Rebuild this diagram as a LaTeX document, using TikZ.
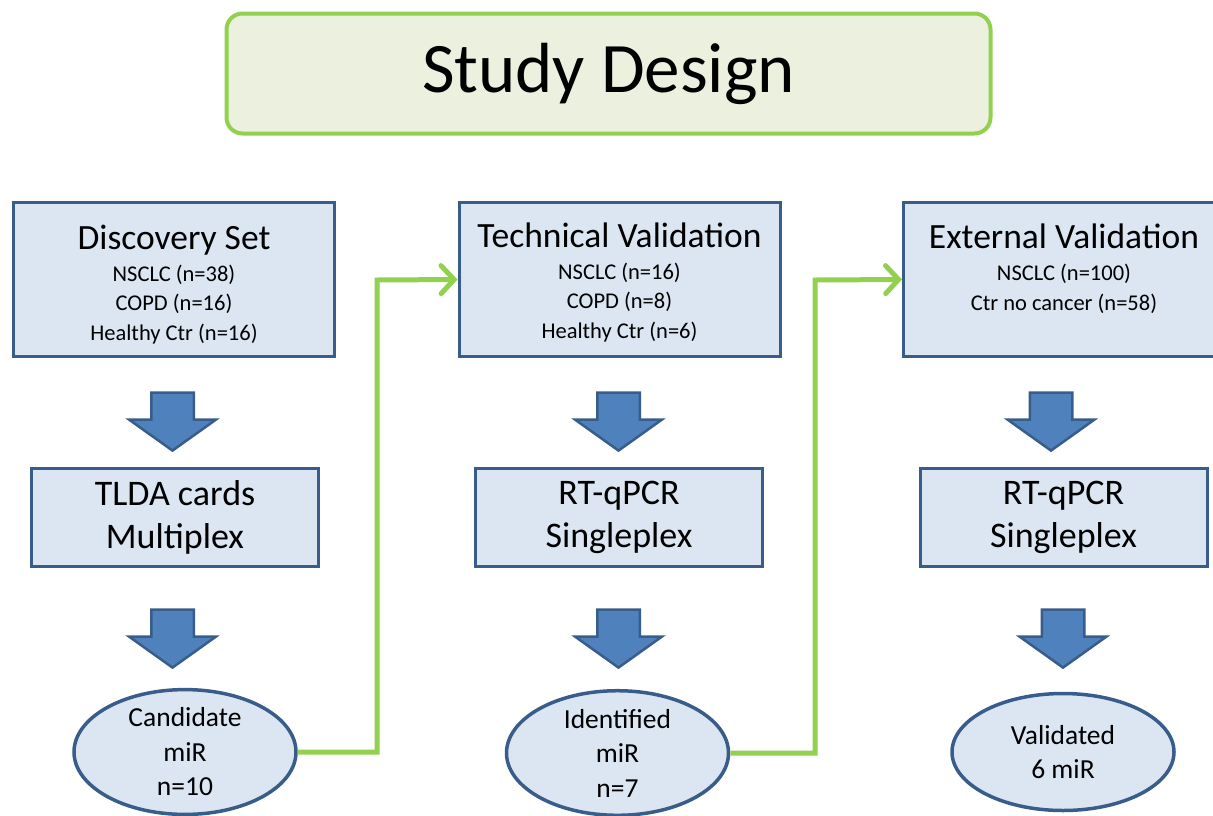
\documentclass[tikz,border=0pt]{standalone}
\usepackage{fontspec}
\setmainfont{Carlito}
\usetikzlibrary{shapes.geometric,shapes.arrows,arrows.meta}
\definecolor{titlegreen}{HTML}{92D050}
\definecolor{titlefill}{HTML}{EBF1DE}
\definecolor{boxblue}{HTML}{385D8A}
\definecolor{boxfill}{HTML}{DCE6F2}
\definecolor{arrowblue}{HTML}{4F81BD}
\newcommand{\sethead}[1]{\fontsize{35.5}{35.5}\selectfont #1}

\begin{document}
\begin{tikzpicture}
            [x=1pt,y=-1pt,
                titlebox/.style={draw=titlegreen,line width=4pt,fill=titlefill,rounded corners=16pt,
                    minimum width=764pt,minimum height=120pt,font=\fontsize{71}{80}\selectfont},
                setbox/.style={draw=boxblue,line width=3pt,fill=boxfill,minimum width=321pt,minimum height=154pt},
                settext/.style={align=center,inner sep=0pt,anchor=base,font=\fontsize{22.5}{29.5}\selectfont},
                methodbox/.style={draw=boxblue,line width=3pt,fill=boxfill,minimum width=287pt,minimum height=98pt,
                    align=center,font=\fontsize{36}{43}\selectfont},
                resultnode/.style={ellipse,draw=boxblue,line width=3.5pt,fill=boxfill,minimum width=222pt,
                    minimum height=117pt,align=center,inner sep=0pt,font=\fontsize{27.5}{34.5}\selectfont},
                downarrow/.style={single arrow,shape border rotate=270,draw=boxblue,line width=2.5pt,fill=arrowblue,
                    minimum height=58pt,inner xsep=20pt,inner ysep=0pt,single arrow head extend=22pt,
                    single arrow tip angle=109},
                link/.style={titlegreen,line width=5pt,-{Straight Barb[length=13pt,width=28pt,line cap=round]}}]
            \useasboundingbox (0,0) rectangle (1213,815);
            \clip (0,0) rectangle (1213,815);

            %title
            \node[titlebox] (title) at (608.5,73.5) {Study Design};

            %the three sets
            \node[setbox] (disc) at (174,279.5) {};
            \node[setbox] (tech) at (619.5,279.5) {};
            \node[setbox] (ext) at (1064,279.5) {};
            \node[settext] (disctext) at (174,340) {\sethead{Discovery Set}\\[2.5pt]
                NSCLC (n=38)\\ COPD (n=16)\\ Healthy Ctr (n=16)};
            \node[settext] (techtext) at (619.5,338) {\sethead{Technical Validation}\\[2.5pt]
                NSCLC (n=16)\\ COPD (n=8)\\ Healthy Ctr (n=6)};
            \node[settext] (exttext) at (1064,310) {\sethead{External Validation}\\[2.5pt]
                NSCLC (n=100)\\ Ctr no cancer (n=58)};

            %the methods
            \node[methodbox] (tlda) at (175,517.5) {TLDA cards\\ Multiplex};
            \node[methodbox] (pcrtech) at (619,517.5) {RT-qPCR\\ Singleplex};
            \node[methodbox] (pcrext) at (1063.5,517.5) {RT-qPCR\\ Singleplex};

            %the results
            \node[resultnode] (cand) at (185,752) {Candidate\\ miR\\ n=10};
            \node[resultnode] (ident) at (617.5,753) {Identified\\ miR\\ n=7};
            \node[resultnode] (valid) at (1063,752) {Validated\\ 6 miR};

            %block arrows
            \node[downarrow] (a1) at (172.5,414) {};
            \node[downarrow] (a2) at (618.5,414) {};
            \node[downarrow] (a3) at (1051,414) {};
            \node[downarrow] (a4) at (172.5,631) {};
            \node[downarrow] (a5) at (618.5,631) {};
            \node[downarrow] (a6) at (1063,631) {};

            %green links
            \coordinate (bend1) at (377,280);
            \coordinate (bend2) at (815,280);
            \draw[link] (cand.east) -| (bend1) -- (tech.west);
            \draw[link] (ident.east) -| (bend2) -- (ext.west);
        \end{tikzpicture}
\end{document}
